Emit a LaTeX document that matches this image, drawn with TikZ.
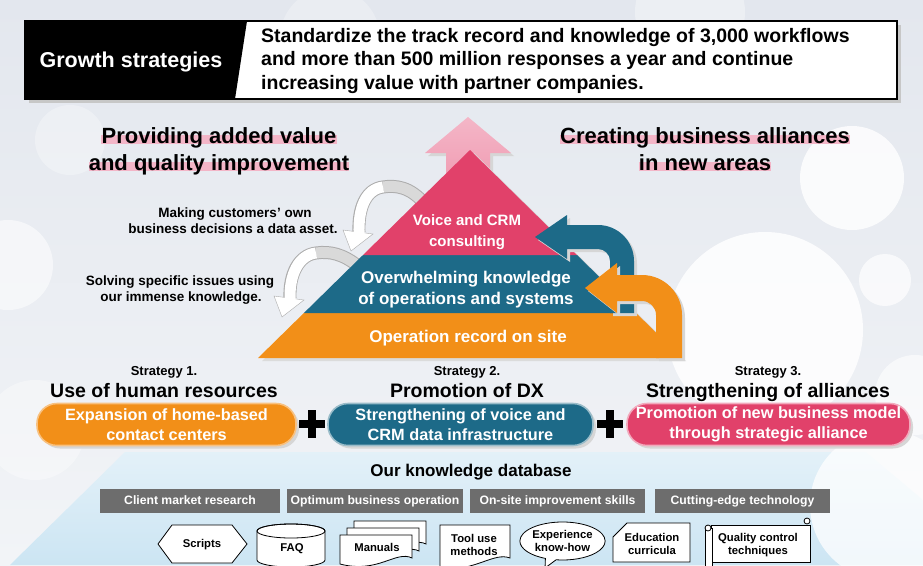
\documentclass[tikz,border=0pt]{standalone}
\usepackage{fontspec}
\setmainfont{Liberation Sans}
\usetikzlibrary{shapes.callouts}

\definecolor{triRed}{HTML}{E1416A}
\definecolor{triTeal}{HTML}{1D6A88}
\definecolor{triOrange}{HTML}{F28F18}
\definecolor{upPink}{HTML}{EE8FA9}
\definecolor{hlPink}{HTML}{F3B5C7}
\definecolor{barGray}{HTML}{6D6D6D}
\definecolor{bandBlue}{HTML}{CCE5F3}
\definecolor{bgTop}{HTML}{E3E7EE}
\definecolor{bgBot}{HTML}{F2F4F7}

\pgfdeclarelayer{backdrop}
\pgfdeclarelayer{marker}
\pgfsetlayers{backdrop,marker,main}

\tikzset{every picture/.style={line width=1pt}}
\tikzset{
  every node/.style={inner sep=0pt},
  lbl/.style={anchor=base, font=\bfseries\fontsize{#1}{#1}\selectfont},
  lbl/.default={13.5}, % small captions
  white lbl/.style={lbl=#1, text=white},
  casts shadow/.style={preaction={fill=black!16,
      transform canvas={xshift=3pt, yshift=-3pt}}},
  pill/.style={rounded corners=20pt, minimum width=#1pt, minimum height=42pt,
      text=white, align=center, line width=1.6pt, casts shadow,
      font=\bfseries\fontsize{16.3}{20}\selectfont},
  bar/.style={fill=barGray, text=white, minimum width=#1pt, minimum height=24pt,
      text height=9pt, text depth=2.5pt, font=\bfseries\fontsize{12.2}{12.2}\selectfont},
  icon/.style={draw=black, fill=white, line width=0.8pt},
  icontext/.style={align=center, font=\bfseries\fontsize{11.3}{13.5}\selectfont},
}
\def\apex{470}
\def\slope{1.019}

\begin{document}
\begin{tikzpicture}[x=1pt, y=-1pt]
  \useasboundingbox (0,0) rectangle (923,565);

  % backdrop: soft gradient, knowledge band and light bubbles
  \begin{pgfonlayer}{backdrop}
    \clip (0,0) rectangle (923,565);
    \shade[top color=bgTop, bottom color=bgBot] (0,0) rectangle (923,565);
    \shade[top color=bandBlue!55!white, bottom color=bandBlue]
      (125,452) -- (866,452) -- (923,500) -- (923,565) -- (10,565) -- cycle;
    \foreach \cx/\cy/\r/\op in {765/330/98/.85, 852/178/52/.8, 885/280/26/.7,
        915/395/40/.6, 8/265/45/.55, 690/12/55/.35, 330/38/50/.25,
        70/140/35/.3, 885/505/75/.75, 35/430/50/.35}
      \fill[white, opacity=\op] (\cx,\cy) circle (\r);
  \end{pgfonlayer}

  % title banner
  \fill[black!22] (29,25) rectangle (901,103);
  \draw[line width=1.2pt, fill=white] (25,21) rectangle (897,99);
  \fill (25,21) -- (247,21) -- (235,99) -- (25,99) -- cycle;
  \node[white lbl=21.5] (growth) at (131,67) {Growth strategies};
  \foreach \ln [count=\i] in {{Standardize the track record and knowledge of 3,000 workflows},
      {and more than 500 million responses a year and continue},
      {increasing value with partner companies.}}
    \node[lbl=19.5, anchor=base west] (goal\i) at (261,{42+23.5*(\i-1)}) {\ln};

  % headings with pink marker underlay
  \node[lbl=22] (value1) at (219,143) {Providing added value};
  \node[lbl=22] (value2) at (219,170) {and quality improvement};
  \node[lbl=22] (alliance1) at (705,143) {Creating business alliances};
  \node[lbl=22] (alliance2) at (705,170) {in new areas};
  \begin{pgfonlayer}{marker}
    \foreach \n in {value1,value2,alliance1,alliance2}
      \fill[hlPink] ([yshift=-1pt]\n.base west) rectangle ([yshift=8pt]\n.base east);
  \end{pgfonlayer}

  % growth arrow behind the pyramid
  \shade[top color=upPink!65!white, bottom color=upPink, casts shadow] (468,117) -- (511,153)
    -- (490,153) -- (490,215) -- (446,215) -- (446,153) -- (425,153) -- cycle;

  % white turning arrows on the left side
  \draw[gray!65, line width=13pt] (424,203) .. controls (410,187) and (396,185) .. (383,187)
    .. controls (366,189) and (358,208) .. (359,232);
  \filldraw[fill=white, draw=gray!65] (343,230) -- (351,251) -- (373,234) -- cycle;
  \draw[gray!30, line width=11pt] (424,203) .. controls (410,187) and (396,185) .. (383,187);
  \draw[white, line width=11pt, shorten >=-2pt] (383,187)
    .. controls (366,189) and (358,208) .. (359,232);
  \draw[gray!65, line width=13pt] (358,266) .. controls (343,254) and (330,251) .. (316,253)
    .. controls (299,255) and (289,274) .. (290,298);
  \filldraw[fill=white, draw=gray!65] (274,296) -- (282,317) -- (304,300) -- cycle;
  \draw[gray!30, line width=11pt] (358,266) .. controls (343,254) and (330,251) .. (316,253);
  \draw[white, line width=11pt, shorten >=-2pt] (316,253)
    .. controls (299,255) and (289,274) .. (290,298);

  % pyramid | three layers cut along the slanted sides
  \fill[black!14] (\apex+4,153) -- (686,361) -- (262,361) -- cycle;
  \fill[triOrange] ({\apex-\slope*163},313) -- ({\apex+\slope*163},313)
    -- ({\apex+\slope*208},358) -- ({\apex-\slope*208},358) -- cycle;
  \fill[triTeal] ({\apex-\slope*105},255) -- ({\apex+\slope*105},255)
    -- ({\apex+\slope*163},313) -- ({\apex-\slope*163},313) -- cycle;
  \fill[triRed] (\apex,150) -- ({\apex+\slope*105},255) -- ({\apex-\slope*105},255) -- cycle;

  % feedback arrows on the right side
  \fill[triTeal, casts shadow] (535,237) -- (567,215) -- (567,225) -- (598,225)
    arc[start angle=-90, end angle=0, radius=36] -- (634,313) -- (610,313) -- (610,261)
    arc[start angle=0, end angle=-90, radius=12] -- (567,249) -- (567,259) -- cycle;
  \fill[triOrange, casts shadow] (585,288) -- (617,263) -- (617,275) -- (642,275)
    arc[start angle=-90, end angle=0, radius=40] -- (682,358) -- (656,358) -- (656,315)
    arc[start angle=0, end angle=-90, radius=14] -- (617,301) -- (617,313) -- cycle;

  \node[white lbl=15] (voice1) at (467,225) {Voice and CRM};
  \node[white lbl=15] (voice2) at (467,246) {consulting};
  \node[white lbl=17] (know1) at (466,283) {Overwhelming knowledge};
  \node[white lbl=17] (know2) at (466,304) {of operations and systems};
  \node[white lbl=17] (record) at (468,342) {Operation record on site};

  \node[lbl] (making1) at (235,217) {Making customers’ own};
  \node[lbl] (making2) at (233,233) {business decisions a data asset.};
  \node[lbl] (solving1) at (180,285) {Solving specific issues using};
  \node[lbl] (solving2) at (181,301) {our immense knowledge.};

  % three strategies
  \foreach \x/\t [count=\i] in {164/Use of human resources, 467/Promotion of DX,
      768/Strengthening of alliances} {
    \node[lbl=13] (strat\i) at (\x,375) {Strategy \i.};
    \node[lbl=19.5] (title\i) at (\x,397) {\t};
  }
  \node[pill=259, fill=triOrange, draw=triOrange!55!white] (pill1) at (166.5,424.5)
    {Expansion of home-based\\contact centers};
  \node[pill=265, fill=triTeal, draw=triTeal!45!white] (pill2) at (460.5,424.5)
    {Strengthening of voice and\\CRM data infrastructure};
  \node[pill=283, fill=triRed, draw=triRed!45!white] (pill3) at (768.5,424.5)
    {Promotion of new business model\\through strategic alliance};
  \foreach \x in {312,610} {
    \fill (\x-4,410) rectangle (\x+4,438);
    \fill (\x-13,420) rectangle (\x+13,428);
  }

  % knowledge database
  \node[lbl=17] (kdb) at (471,476) {Our knowledge database};
  \foreach \cx/\w/\t [count=\i] in {190/180/Client market research,
      375/176/Optimum business operation, 557.5/175/On-site improvement skills,
      742.5/175/Cutting-edge technology}
    \node[bar=\w] (bar\i) at (\cx,501) {\t};

  % stored assets
  \draw[icon] (158,544) -- (172,525) -- (232,525) -- (247,544) -- (232,563) -- (172,563) -- cycle;
  \node[icontext] (scripts) at (202,545) {Scripts};

  \draw[icon] (257,531) -- (257,560) arc[start angle=180, end angle=0, x radius=34, y radius=7]
    -- (325,531) arc[start angle=0, end angle=-180, x radius=34, y radius=7] -- cycle;
  \draw[line width=0.8pt] (291,531) ellipse[x radius=34, y radius=7];
  \node[icontext] (faq) at (292,549) {FAQ};

  \foreach \d in {14,7,0}
    \draw[icon] (340+\d,535-\d) -- (412+\d,535-\d) -- (412+\d,558-\d)
      .. controls (396+\d,550-\d) and (378+\d,574-\d) .. (340+\d,564-\d) -- cycle;
  \node[icontext] (manuals) at (377,547) {Manuals};

  \draw[icon] (440,525) -- (510,525) -- (510,558)
    .. controls (494,552) and (478,570) .. (440,570) -- cycle;
  \node[icontext] (tooluse) at (474,545) {Tool use\\methods};

  \node[icon, ellipse callout, minimum width=81pt, minimum height=38pt,
    callout absolute pointer={(545,568)}, icontext] (experience) at (562.5,541)
    {Experience\\know-how};

  \draw[icon] (613,537) -- (627,523) -- (690,523) -- (690,562) -- (613,562) -- cycle;
  \node[icontext] (education) at (652,544) {Education\\curricula};

  \draw[icon] (711,525) rectangle (810,562);
  \draw[icon] (705,528) rectangle (712,570);
  \draw[icon] (708,528) circle (3);
  \draw[icon] (807,521) circle (3);
  \node[icontext] (quality) at (758,545) {Quality control\\techniques};
\end{tikzpicture}
\end{document}
